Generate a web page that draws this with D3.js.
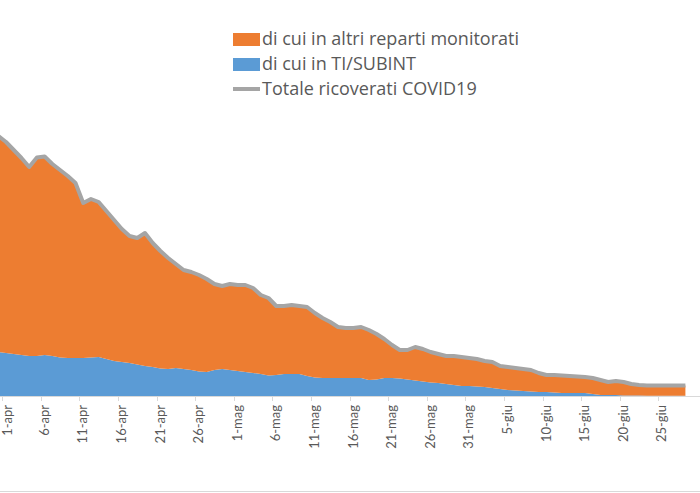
<!DOCTYPE html>
<html>
<head>
<meta charset="utf-8">
<script src="https://cdn.jsdelivr.net/npm/d3@7/dist/d3.min.js"></script>
<style>
  html, body { margin: 0; padding: 0; background: #ffffff; }
  svg { display: block; }
</style>
</head>
<body>
<svg id="chart" width="700" height="493"></svg>
<script>
// ---- data ----
const monthNames = ["gen","feb","mar","apr","mag","giu","lug","ago","set","ott","nov","dic"];
const dates = d3.timeDay.range(new Date(2020, 2, 31), new Date(2020, 5, 29));
const categories = dates.map(d => d.getDate() + "-" + monthNames[d.getMonth()]);

const totaleRicoverati = [
  2600, 2540, 2460, 2380, 2290, 2385, 2395, 2320, 2260, 2200,
  2130, 1930, 1970, 1940, 1850, 1760, 1670, 1600, 1580, 1630,
  1530, 1450, 1380, 1320, 1260, 1240, 1210, 1170, 1120, 1100,
  1120, 1110, 1110, 1080, 1010, 980, 900, 900, 910, 900,
  890, 830, 780, 740, 690, 680, 680, 690, 660, 620,
  570, 510, 460, 460, 490, 470, 440, 420, 400, 400,
  390, 380, 370, 350, 340, 300, 290, 280, 270, 260,
  230, 210, 210, 205, 200, 195, 190, 180, 160, 140,
  150, 140, 120, 110, 105, 105, 105, 105, 105, 105
];
const tiSubint = [
  440, 430, 420, 410, 400, 400, 410, 400, 385, 380,
  380, 380, 385, 390, 370, 350, 340, 330, 315, 300,
  290, 275, 270, 280, 270, 260, 245, 240, 260, 270,
  260, 250, 240, 230, 220, 205, 210, 220, 220, 220,
  200, 185, 180, 180, 180, 180, 180, 180, 160, 165,
  180, 180, 175, 165, 155, 145, 135, 130, 120, 110,
  100, 100, 95, 90, 80, 70, 60, 55, 50, 45,
  40, 40, 35, 30, 30, 30, 30, 20, 10, 10,
  10, 5, 5, 5, 3, 3, 3, 3, 3, 3
];
const altriReparti = totaleRicoverati.map((t, i) => t - tiSubint[i]);

const tickLabels = ["1-apr","6-apr","11-apr","16-apr","21-apr","26-apr","1-mag","6-mag","11-mag","16-mag","21-mag","26-mag","31-mag","5-giu","10-giu","15-giu","20-giu","25-giu"];

const seriesNames = ["di cui in altri reparti monitorati", "di cui in TI/SUBINT", "Totale ricoverati COVID19"];
const colors = { altri: "#ED7D31", ti: "#5B9BD5", tot: "#A5A5A5", text: "#595959", grid: "#D9D9D9" };

// ---- chart ----
const svg = d3.select("#chart");
const baseY = 396;

const x = d3.scalePoint().domain(categories).range([-1.7, 685.4]);
const y = d3.scaleLinear().domain([0, 3000]).range([baseY, 96]);
const step = x.step();

const rows = categories.map((c, i) => ({ cat: c, ti: tiSubint[i], altri: altriReparti[i], tot: totaleRicoverati[i] }));
const stack = d3.stack().keys(["ti", "altri"]);
const stacked = stack(rows);

const area = d3.area()
  .x(d => x(d.data.cat))
  .y0(d => y(d[0]))
  .y1(d => y(d[1]));

svg.append("g").selectAll("path")
  .data(stacked)
  .join("path")
  .attr("d", area)
  .attr("fill", d => d.key === "ti" ? colors.ti : colors.altri);

// axis line and ticks
svg.append("line")
  .attr("x1", 0).attr("x2", 700)
  .attr("y1", baseY + 0.5).attr("y2", baseY + 0.5)
  .attr("stroke", colors.grid).attr("stroke-width", 1);

const tickG = svg.append("g");
tickLabels.forEach(lbl => {
  const cx = x(lbl);
  tickG.append("line")
    .attr("x1", Math.round(cx - step / 2) + 0.5).attr("x2", Math.round(cx - step / 2) + 0.5)
    .attr("y1", baseY).attr("y2", baseY + 5)
    .attr("stroke", colors.grid).attr("stroke-width", 1);
  tickG.append("text")
    .attr("transform", `translate(${Math.max(cx, 8)},${baseY + 9}) rotate(-90)`)
    .attr("text-anchor", "end")
    .attr("dy", "0.32em")
    .attr("font-family", "Lato, 'Open Sans', sans-serif")
    .attr("font-size", 13)
    .attr("fill", colors.text)
    .text(lbl);
});

// total line
const line = d3.line()
  .x(d => x(d.cat))
  .y(d => y(d.tot));
svg.append("path")
  .datum(rows)
  .attr("d", line)
  .attr("fill", "none")
  .attr("stroke", colors.tot)
  .attr("stroke-width", 4)
  .attr("stroke-linejoin", "round");

// legend
const legend = svg.append("g").attr("font-family", "'Open Sans', Lato, sans-serif").attr("font-size", 18).attr("fill", colors.text);
const legRows = [
  { name: seriesNames[0], type: "rect", color: colors.altri, cy: 39 },
  { name: seriesNames[1], type: "rect", color: colors.ti, cy: 64 },
  { name: seriesNames[2], type: "line", color: colors.tot, cy: 89 }
];
legRows.forEach(r => {
  if (r.type === "rect") {
    legend.append("rect").attr("x", 233).attr("y", r.cy - 6).attr("width", 27).attr("height", 13).attr("fill", r.color);
  } else {
    legend.append("line").attr("x1", 233).attr("x2", 260).attr("y1", r.cy).attr("y2", r.cy)
      .attr("stroke", r.color).attr("stroke-width", 4);
  }
  legend.append("text").attr("x", 262).attr("y", r.cy).attr("dy", "0.35em").text(r.name);
});

// bottom border
svg.append("line")
  .attr("x1", 0).attr("x2", 700).attr("y1", 491.5).attr("y2", 491.5)
  .attr("stroke", colors.grid).attr("stroke-width", 1);
</script>
</body>
</html>
